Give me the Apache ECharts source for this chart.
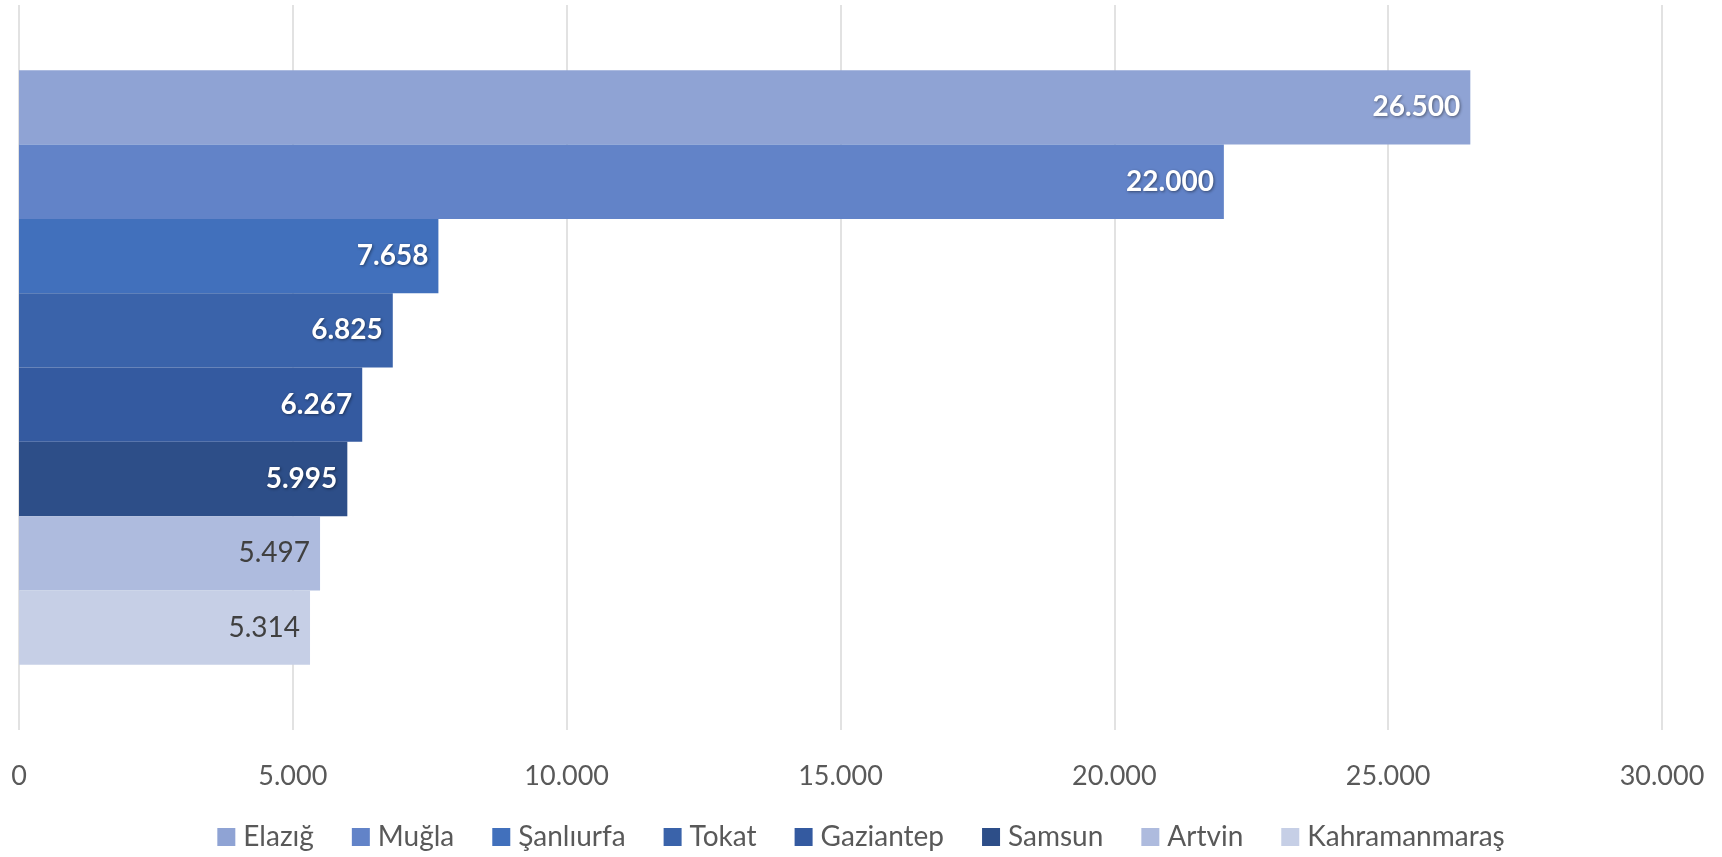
<!DOCTYPE html>
<html>
<head>
<meta charset="utf-8">
<script src="https://cdn.jsdelivr.net/npm/echarts@6/dist/echarts.min.js"></script>
<style>
  html, body { margin: 0; padding: 0; background: #fff; }
  #chart { width: 1722px; height: 857px; }
</style>
</head>
<body>
<div id="chart"></div>
<script>
var cities = ["Elazığ", "Muğla", "Şanlıurfa", "Tokat", "Gaziantep", "Samsun", "Artvin", "Kahramanmaraş"];
var values = [26500, 22000, 7658, 6825, 6267, 5995, 5497, 5314];
var colors = ["#8FA3D4", "#6283C8", "#4170BC", "#3A63AA", "#345AA0", "#2D4E88", "#AEBBDE", "#C6CFE6"];
var darkLabel = [false, false, false, false, false, false, true, true];

function fmt(v) {
  return String(v).replace(/\B(?=(\d{3})+(?!\d))/g, ".");
}

var myChart = echarts.init(document.getElementById("chart"));
var series = cities.map(function (name, i) {
  var lbl = darkLabel[i]
    ? { color: "#404040", fontWeight: "normal" }
    : {
        color: "#fff",
        fontWeight: "bold",
        textShadowColor: "rgba(0,0,0,0.45)",
        textShadowBlur: 3,
        textShadowOffsetX: 1,
        textShadowOffsetY: 1,
      };
  return {
    name: name,
    type: "bar",
    data: [values[i]],
    barGap: "0%",
    barCategoryGap: "18%",
    itemStyle: { color: colors[i] },
    label: Object.assign(
      {
        show: true,
        position: "insideRight",
        distance: 10,
        fontSize: 28,
        fontFamily: "Lato",
        formatter: function (p) {
          return fmt(p.value);
        },
      },
      lbl
    ),
  };
});

var option = {
  animation: false,
  textStyle: { fontFamily: "Lato" },
  grid: { left: 19, right: 60, top: 5, bottom: 127, containLabel: false },
  legend: {
    bottom: 1,
    left: "center",
    icon: "rect",
    itemWidth: 18,
    itemHeight: 18,
    itemGap: 38,
    textStyle: { color: "#595959", fontSize: 28, fontFamily: "Lato", padding: [0, 0, 0, 3] },
    data: cities,
  },
  xAxis: {
    type: "value",
    min: 0,
    max: 30000,
    interval: 5000,
    axisLine: { show: false },
    axisTick: { show: false },
    axisLabel: {
      color: "#595959",
      fontSize: 27,
      margin: 33,
      formatter: function (v) {
        return fmt(v);
      },
    },
    splitLine: { show: true, lineStyle: { color: "#D9D9D9", width: 1.5 } },
  },
  yAxis: {
    type: "category",
    data: [""],
    inverse: true,
    axisLine: { show: false },
    axisTick: { show: false },
    axisLabel: { show: false },
  },
  series: series,
};
myChart.setOption(option);
</script>
</body>
</html>
